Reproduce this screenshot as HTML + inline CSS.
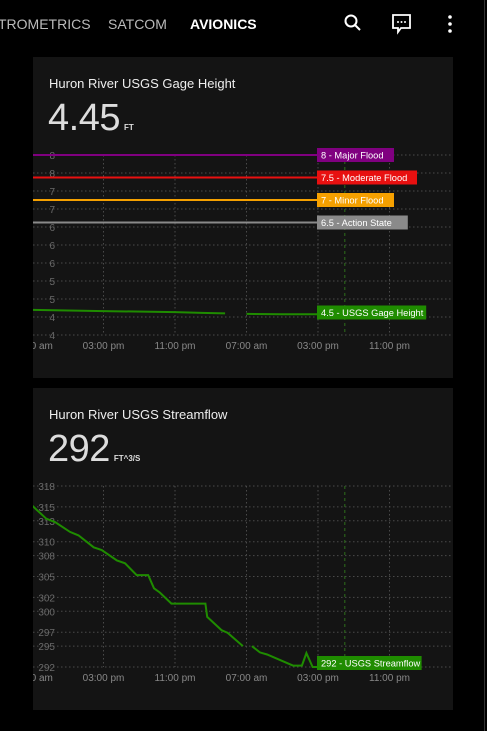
<!DOCTYPE html>
<html><head><meta charset="utf-8">
<style>
body{margin:0;width:487px;height:731px;background:#000;overflow:hidden;font-family:"Liberation Sans",sans-serif;color:#fff;position:relative}
.tab{position:absolute;top:16px;font-size:14px;color:#bbb}
.card{position:absolute;left:33px;width:420px;background:#141414;overflow:hidden}
.title{position:absolute;left:16px;font-size:13px;color:#eee}
.big{position:absolute;left:15px;font-size:38px;font-weight:300;color:#ddd;letter-spacing:-0.5px}
.unit{font-size:8px;font-weight:bold;margin-left:4px;letter-spacing:0}
svg text{font-family:"Liberation Sans",sans-serif}
</style></head><body>
<div class="tab" style="left:-2px">TROMETRICS</div>
<div class="tab" style="left:108px">SATCOM</div>
<div class="tab" style="left:190px;color:#fff;font-weight:bold">AVIONICS</div>
<svg style="position:absolute;left:343px;top:13px" width="20" height="20"><circle cx="8" cy="8" r="5.5" stroke="#fff" stroke-width="2" fill="none"/><line x1="12" y1="12" x2="17" y2="17" stroke="#fff" stroke-width="2"/></svg>
<svg style="position:absolute;left:391px;top:13px" width="22" height="22"><path d="M2 2H19V15H10L7 19V15H2Z" stroke="#fff" stroke-width="1.8" fill="none"/><circle cx="7" cy="9" r="1" fill="#fff"/><circle cx="10.5" cy="9" r="1" fill="#fff"/><circle cx="14" cy="9" r="1" fill="#fff"/></svg>
<svg style="position:absolute;left:446px;top:14px" width="8" height="20"><circle cx="4" cy="3" r="1.8" fill="#fff"/><circle cx="4" cy="10" r="1.8" fill="#fff"/><circle cx="4" cy="17" r="1.8" fill="#fff"/></svg>
<div style="position:absolute;left:484px;top:0;width:1px;height:731px;background:#333"></div>

<div class="card" style="top:57px;height:321px">
<div class="title" style="top:19px">Huron River USGS Gage Height</div>
<div class="big" style="top:40px">4.45<span class="unit">FT</span></div>
</div>
<div class="card" style="top:388px;height:322px">
<div class="title" style="top:19px">Huron River USGS Streamflow</div>
<div class="big" style="top:40px">292<span class="unit">FT^3/S</span></div>
</div>
<svg id="c1" style="position:absolute;left:0;top:0" width="487" height="731"></svg>
<script>
const xTickLabels=["07:00 am","03:00 pm","11:00 pm","07:00 am","03:00 pm","11:00 pm"];
const xTickHours=[0,8,16,24,32,40];
const gageTicks=[8,7.6,7.2,6.8,6.4,6,5.6,5.2,4.8,4.4,4];
const gageHours=[0,8,16,19,21.6,null,24,28,32];
const gageValues=[4.56,4.53,4.51,4.49,4.48,null,4.47,4.46,4.46];
const thresholdValues=[8,7.5,7,6.5];
const thresholdNames=["8 - Major Flood","7.5 - Moderate Flood","7 - Minor Flood","6.5 - Action State"];
const thresholdColors=["#800080","#e81010","#f5a000","#8a8a8a"];
const gageLabel="4.5 - USGS Gage Height";
const gageLabelValue=4.5;
const flowTicks=[318,315,313,310,308,305,302,300,297,295,292];
const flowHours=[0,1.6,2.6,4.25,5.2,6.9,7.8,9.5,10.4,11.7,13.0,13.65,14.3,15.6,19.4,19.6,21.2,21.9,23.6,null,24.6,25.5,26.3,29.2,30.2,30.7,31.4,31.9];
const flowValues=[315.2,313.3,312.8,311.4,310.9,309.2,308.8,307.3,306.9,305.2,305.2,303.3,302.7,301.1,301.1,299.2,297.3,296.9,295.0,null,295.0,294.1,293.8,292.2,292.2,294.0,292.0,292.0];
const flowLabel="292 - USGS Streamflow";
const flowLabelValue=292;
const nowHour=35;

const svg=document.getElementById('c1');
const NS='http://www.w3.org/2000/svg';
function mk(t,a,p){const e=document.createElementNS(NS,t);for(const k in a)e.setAttribute(k,a[k]);(p||svg).appendChild(e);return e;}
const xh=h=>32+h*71.5/8;
function chart(top,bot,vmin,vmax,ticks,hours,vals,tickFmt){
  const g=mk('g',{'clip-path':'url(#clip'+top+')'});
  
  
  const cp=mk('clipPath',{id:'clip'+top});mk('rect',{x:33,y:top-20,width:420,height:bot-top+40},cp);
  const y=v=>bot-(v-vmin)/(vmax-vmin)*(bot-top);
  ticks.forEach(t=>{
    const l=mk('line',{x1:33,x2:453,y1:y(t),y2:y(t),stroke:'#4a4a4a','stroke-dasharray':'1.5,2.5'},g);
    
    const tx=mk('text',{x:55,y:y(t)+4,fill:'#6a6a6a','font-size':'10','text-anchor':'end'},g);tx.textContent=tickFmt(t);
    
  });
  xTickHours.forEach((h,i)=>{
    const l=mk('line',{x1:xh(h),x2:xh(h),y1:top,y2:bot,stroke:'#4a4a4a','stroke-dasharray':'1.5,2.5'},g);
    
    const tx=mk('text',{x:xh(h),y:bot+14,fill:'#888','font-size':'10','text-anchor':'middle'},g);tx.textContent=xTickLabels[i];
    
  });
  const nl=mk('line',{x1:xh(nowHour),x2:xh(nowHour),y1:top,y2:bot,stroke:'#2d6e1a','stroke-dasharray':'3,3'},g);
  
  let d='',pen=false;
  hours.forEach((h,i)=>{if(h===null){pen=false;return;}d+=(pen?'L':'M')+xh(h).toFixed(1)+' '+y(vals[i]).toFixed(1);pen=true;});
  const p=mk('path',{d:d,stroke:'#1f8c00','stroke-width':'2',fill:'none'},g);
  
  return y;
}
function label(y,text,color,name){
  const w=text.length*4.6+8;
  const r=mk('rect',{x:317,y:y-7,width:w,height:14,fill:color});
  
  const t=mk('text',{x:321,y:y+3.5,fill:'#fff','font-size':'9.3'});t.textContent=text;
  
}
const y1=chart(155,335,4,8,gageTicks,gageHours,gageValues,t=>Math.round(t));
thresholdValues.forEach((v,i)=>{
  const l=mk('line',{x1:33,x2:317,y1:y1(v),y2:y1(v),stroke:thresholdColors[i],'stroke-width':'2'});
  
  label(y1(v),thresholdNames[i],thresholdColors[i],'threshold-label');
});
label(y1(gageLabelValue),gageLabel,'#1f8c00','gage-series-label');
const y2=chart(486,667,292,318,flowTicks,flowHours,flowValues,t=>t);
label(y2(flowLabelValue)-4,flowLabel,'#1f8c00','flow-series-label');
</script>
</body></html>
